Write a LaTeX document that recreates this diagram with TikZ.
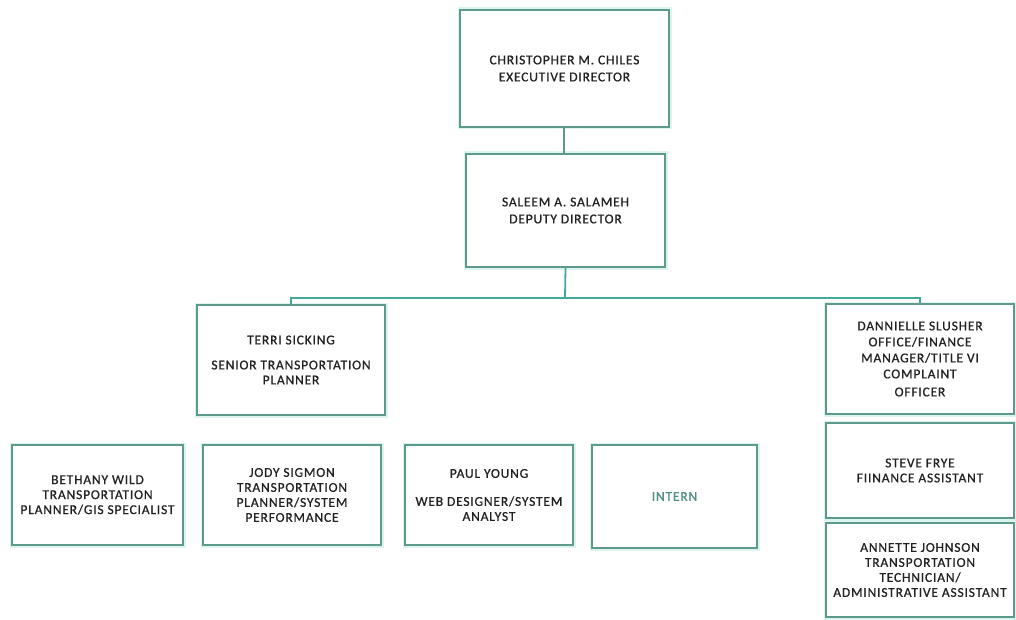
\documentclass[tikz,border=0pt]{standalone}
\usepackage{fontspec}
\setmainfont{Carlito}[LetterSpace=6, FakeBold=0.8]
\definecolor{boxc}{HTML}{5E9A8C}
\definecolor{haloc}{HTML}{DDF3F0}
\definecolor{linec}{HTML}{45A89E}
\definecolor{txtc}{HTML}{222222}
\definecolor{internc}{HTML}{4F8F84}
\begin{document}
\begin{tikzpicture}[x=1pt,y=-1pt,
  orgbox/.style={draw=boxc, line width=1.8pt, rectangle, inner sep=1pt,
    preaction={draw=haloc, line width=5pt},
    fill=white, align=center, text=txtc,
    font=\fontsize{13.5}{15}\selectfont},
  conn/.style={draw=linec, line width=1.8pt}]
\useasboundingbox (0,0) rectangle (1016,620);
\fill[white] (0,0) rectangle (1016,620);

\node[orgbox, minimum width=209pt, minimum height=117pt] (top) at (564.5,68.5)
  {CHRISTOPHER M. CHILES\\[2pt]EXECUTIVE DIRECTOR};
\node[orgbox, minimum width=199pt, minimum height=113pt] (dep) at (565.5,210.5)
  {SALEEM A. SALAMEH\\[2pt]DEPUTY DIRECTOR};
\node[orgbox, minimum width=188pt, minimum height=110pt] (terri) at (291,360)
  {TERRI SICKING\\[10pt]SENIOR TRANSPORTATION\\PLANNER};
\node[orgbox, minimum width=188pt, minimum height=110pt, font=\fontsize{13.5}{16}\selectfont] (dan) at (920,359)
  {DANNIELLE SLUSHER\\OFFICE/FINANCE\\MANAGER/TITLE VI\\COMPLAINT\\[2pt]OFFICER};
\node[orgbox, minimum width=188pt, minimum height=95pt] (steve) at (920,470.5)
  {STEVE FRYE\\FIINANCE ASSISTANT};
\node[orgbox, minimum width=188pt, minimum height=94pt] (annette) at (920,570)
  {ANNETTE JOHNSON\\TRANSPORTATION\\TECHNICIAN/\\ADMINISTRATIVE ASSISTANT};
\node[orgbox, minimum width=171pt, minimum height=100pt] (bethany) at (97.5,495)
  {BETHANY WILD\\TRANSPORTATION\\PLANNER/GIS SPECIALIST};
\node[orgbox, minimum width=178pt, minimum height=100pt] (jody) at (292,495)
  {JODY SIGMON\\TRANSPORTATION\\PLANNER/SYSTEM\\PERFORMANCE};
\node[orgbox, minimum width=168pt, minimum height=100pt] (paul) at (489,495)
  {PAUL YOUNG\\[13pt]WEB DESIGNER/SYSTEM\\ANALYST};
\node[orgbox, minimum width=165pt, minimum height=103pt, text=internc] (intern) at (674.5,496.5)
  {INTERN};

\coordinate (bus) at (565,298);
\draw[conn, draw=boxc] (top.south -| 564,0) -- (dep.north -| 564,0);
\draw[conn] (dep.south) -- (bus);
\draw[conn] (terri.north) |- (bus) -| (dan.north);
\end{tikzpicture}
\end{document}
